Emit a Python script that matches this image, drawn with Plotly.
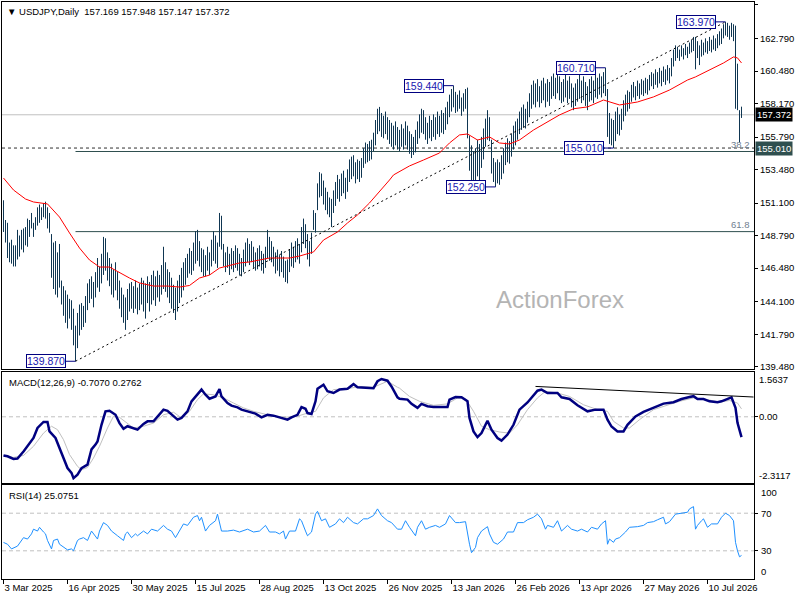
import plotly.graph_objects as go

# daily bars, one high / low per day
bar_high = [
    151.3, 149.9, 149.7, 148.3, 148.5, 148.1, 148.1, 149.2, 148.8, 149.2,
    149.3, 149.4, 150.0, 149.9, 150.4, 149.7, 150.1, 150.8, 151.0, 150.8,
    151.1, 151.2, 150.8, 150.4, 148.9, 148.3, 148.4, 147.6, 148.2, 145.6,
    145.2, 144.9, 144.6, 144.3, 144.2, 143.6, 142.4, 143.3, 143.9, 144.0,
    143.8, 144.5, 145.4, 145.7, 145.9, 145.5, 146.2, 147.2, 146.6, 147.5,
    148.7, 148.6, 147.6, 147.2, 146.8, 146.4, 146.9, 146.2, 145.6, 145.1,
    144.6, 144.4, 145.0, 145.4, 145.5, 145.2, 145.6, 145.1, 145.4, 145.8,
    145.6, 145.4, 145.9, 145.5, 146.0, 146.3, 145.9, 146.3, 146.0, 146.7,
    148.0, 146.9, 146.4, 146.2, 145.8, 145.3, 145.1, 145.6, 146.0, 146.5,
    146.9, 147.2, 147.5, 147.9, 147.7, 148.3, 149.1, 149.2, 148.4, 147.9,
    147.8, 147.4, 148.0, 147.6, 148.5, 149.1, 148.8, 148.3, 150.4, 150.2,
    148.2, 147.6, 148.0, 147.5, 147.9, 147.7, 148.1, 147.9, 147.5, 147.2,
    147.8, 148.3, 148.6, 148.2, 148.4, 148.0, 147.6, 147.9, 148.1, 147.7,
    147.5, 148.0, 149.2, 148.7, 148.4, 148.0, 147.6, 147.8, 147.4, 147.7,
    147.3, 147.0, 147.1, 147.8, 148.3, 148.0, 148.4, 148.6, 148.2, 149.4,
    150.0, 149.6, 148.9, 148.4, 149.0, 150.6, 150.4, 152.5, 153.3, 153.2,
    152.7, 152.2, 151.9, 151.5, 151.4, 152.0, 152.6, 153.1, 152.8, 153.2,
    153.4, 152.9, 153.5, 154.2, 154.4, 154.5, 154.0, 154.2, 154.1, 154.3,
    155.0, 155.4, 155.3, 155.5, 155.6, 156.1, 157.0, 157.8, 157.93, 157.5,
    157.3, 157.6, 157.2, 157.0, 156.8, 156.6, 156.9, 156.5, 156.3, 156.7,
    156.4, 156.9, 156.6, 156.2, 156.0, 155.8, 156.3, 156.9, 157.4, 157.8,
    157.7, 157.2, 156.8, 157.3, 157.0, 157.4, 157.2, 157.6, 157.3, 157.7,
    157.5, 157.9, 158.3, 158.8, 159.2, 159.44, 159.0, 158.8, 159.1, 158.6,
    158.9, 159.2, 159.3, 155.9, 155.2, 154.8, 155.0, 155.6, 155.3, 155.8,
    156.4, 157.1, 157.7, 157.2, 155.6, 154.3, 154.0, 154.2, 154.0, 154.5,
    155.0, 155.4, 155.7, 155.5, 156.0, 156.6, 156.9, 157.1, 157.6, 157.9,
    158.1, 157.8, 158.3, 158.9, 159.5, 159.8, 159.6, 159.9, 159.4, 159.8,
    160.0, 159.6, 159.9, 159.7, 160.1, 160.3, 160.0, 160.55, 160.1, 159.7,
    159.9, 160.2, 159.8, 160.1, 159.6, 159.3, 159.6, 159.9, 160.2, 159.8,
    160.1, 159.7, 159.4, 159.9, 160.1, 159.8, 160.2, 160.0, 160.3, 160.1,
    160.4, 160.71, 159.2, 157.5, 157.1, 157.0, 157.6, 157.9, 157.4, 157.8,
    158.4, 158.8, 159.1, 159.0, 159.5, 159.7, 159.4, 159.8, 159.6, 159.9,
    159.8, 160.0, 159.9, 160.2, 160.4, 160.3, 160.6, 160.4, 160.7, 160.5,
    160.8, 160.6, 160.9, 160.7, 161.4, 162.0, 162.3, 162.2, 162.0, 162.3,
    162.1, 162.4, 162.2, 162.5, 162.7, 162.9, 162.9, 162.6, 162.3, 162.7,
    162.5, 162.8, 162.6, 162.9, 162.7, 163.0, 162.8, 163.1, 163.3, 163.5,
    163.8, 163.97, 163.9, 163.7, 163.9, 163.8, 163.7, 161.0, 157.7, 157.948,
]
bar_low = [
    149.05, 148.3, 147.2, 146.9, 146.8, 146.6, 146.6, 147.1, 147.3, 147.8,
    147.6, 148.1, 148.0, 148.7, 149.3, 148.7, 149.2, 149.5, 149.7, 149.9,
    150.1, 150.0, 149.3, 149.0, 145.8, 145.0, 144.6, 144.4, 145.1, 143.9,
    143.1, 142.6, 142.2, 142.9, 142.1, 141.0, 139.87, 140.8, 141.7, 142.1,
    142.3, 142.6, 143.5, 144.0, 144.3, 143.7, 144.4, 145.1, 144.8, 145.4,
    146.0, 146.3, 145.6, 145.2, 144.6, 144.4, 144.9, 144.2, 143.6, 143.0,
    142.6, 142.1, 142.8, 143.4, 143.6, 143.3, 143.6, 143.2, 143.5, 143.9,
    143.4, 142.9, 144.0, 143.4, 143.9, 144.2, 143.8, 144.4, 144.1, 144.6,
    145.0, 144.8, 144.4, 144.0, 143.6, 143.3, 142.8, 143.4, 144.0, 144.4,
    144.9, 145.3, 145.8, 146.1, 146.0, 146.3, 146.8, 147.0, 146.6, 146.2,
    145.9, 145.9, 146.3, 146.0, 146.6, 147.0, 146.8, 146.5, 148.0, 147.8,
    146.6, 146.2, 146.5, 146.0, 146.4, 146.2, 146.5, 146.3, 146.0, 145.9,
    146.2, 146.6, 146.9, 146.7, 146.9, 146.5, 146.3, 146.4, 146.6, 146.3,
    146.1, 146.5, 147.2, 147.0, 146.9, 146.6, 146.1, 146.3, 145.9, 146.2,
    145.8, 145.5, 145.4, 146.2, 146.6, 146.5, 146.9, 147.1, 146.8, 147.6,
    148.2, 147.9, 147.1, 146.6, 147.5, 149.2, 149.0, 150.6, 151.5, 151.6,
    151.0, 150.6, 150.3, 150.1, 149.4, 150.4, 150.9, 151.4, 151.2, 151.6,
    151.8, 151.4, 151.9, 152.6, 152.8, 153.0, 152.5, 152.8, 152.6, 152.9,
    153.6, 153.9, 154.0, 154.1, 154.2, 154.8, 155.2, 156.0, 156.2, 155.8,
    155.7, 156.0, 155.6, 155.3, 155.1, 154.9, 155.2, 154.9, 154.8, 155.1,
    154.9, 155.2, 154.9, 154.6, 154.3, 154.52, 154.7, 155.3, 155.7, 156.1,
    156.0, 155.6, 155.3, 155.7, 155.5, 155.8, 155.6, 156.0, 155.8, 156.1,
    156.0, 156.3, 156.7, 157.2, 157.6, 157.9, 157.5, 157.6, 157.8, 157.3,
    157.6, 157.8, 155.7, 153.4, 152.7, 152.5, 152.6, 153.0, 152.4, 153.6,
    154.2, 155.1, 155.6, 155.5, 153.2, 152.6, 152.25, 152.5, 152.4, 152.8,
    153.2, 153.8, 154.0, 153.9, 154.4, 154.9, 155.2, 155.6, 156.0, 156.3,
    156.5, 156.4, 156.8, 157.2, 157.8, 158.1, 157.9, 158.3, 157.9, 158.2,
    158.4, 157.9, 158.3, 158.0, 158.5, 158.7, 158.5, 158.9, 158.4, 158.2,
    158.3, 158.6, 158.2, 158.5, 157.9, 157.7, 158.0, 158.3, 158.5, 158.2,
    158.4, 158.0, 157.7, 158.3, 158.4, 158.2, 158.6, 158.5, 158.8, 158.6,
    158.9, 158.7, 155.8, 155.3, 155.2, 155.01, 155.5, 156.0, 155.9, 156.3,
    156.9, 157.3, 157.6, 157.8, 158.3, 158.6, 158.4, 158.7, 158.5, 158.8,
    158.7, 158.9, 158.8, 159.1, 159.4, 159.2, 159.5, 159.3, 159.6, 159.4,
    159.7, 159.5, 159.8, 159.6, 160.1, 160.8, 161.2, 161.4, 161.2, 161.5,
    161.3, 161.6, 161.4, 161.7, 161.8, 161.9, 160.6, 161.4, 160.9, 161.5,
    161.6, 161.8, 161.7, 161.9, 161.8, 162.0, 161.9, 162.1, 162.3, 162.4,
    162.8, 163.0, 162.9, 162.7, 162.9, 162.6, 157.8, 157.7, 155.4, 157.147,
]

# moving average (red)
ma_idx = [0, 5, 11, 15, 22, 28, 33, 38, 43, 48, 53, 58, 63, 68, 75, 82, 88, 93, 98,
          103, 108, 118, 123, 133, 143, 148, 153, 155, 160, 167, 172, 177, 183, 188,
          193, 195, 203, 210, 218, 223, 228, 232, 237, 243, 248, 253, 258, 265, 272,
          278, 285, 292, 300, 308, 317, 325, 333, 342, 346, 353, 360, 365, 367, 369]
ma_val = [152.88, 152.03, 151.39, 151.18, 151.04, 150.11, 148.98, 147.91, 147.06,
          146.56, 146.56, 146.14, 145.78, 145.43, 145.21, 145.21, 145.14, 145.25,
          145.78, 145.99, 146.49, 146.85, 146.92, 147.20, 147.20, 147.34, 147.56,
          147.63, 148.48, 149.05, 149.69, 150.26, 151.11, 151.89, 152.74, 153.10,
          153.74, 154.16, 154.66, 155.37, 155.94, 156.01, 155.58, 155.80, 155.37,
          155.30, 155.58, 156.29, 156.86, 157.36, 157.80, 157.93, 158.42, 158.07,
          158.28, 158.64, 159.13, 159.84, 160.06, 160.55, 161.05, 161.48, 161.41,
          161.05]

macd_idx = [0, 2, 5, 7, 10, 12, 15, 17, 20, 22, 23, 26, 28, 30, 32, 34, 35, 37, 39,
            42, 44, 46, 47, 49, 51, 53, 56, 58, 60, 62, 65, 67, 70, 72, 75, 77, 80,
            82, 85, 87, 89, 92, 94, 97, 99, 101, 103, 106, 108, 109, 112, 114, 117,
            119, 122, 126, 129, 132, 135, 138, 142, 144, 147, 149, 151, 152, 154,
            156, 157, 160, 162, 165, 168, 172, 175, 177, 182, 185, 187, 189, 192,
            194, 197, 198, 202, 204, 207, 209, 212, 215, 220, 222, 223, 226, 229,
            232, 233, 235, 237, 239, 241, 242, 244, 247, 249, 252, 255, 258, 262,
            264, 267, 269, 272, 275, 277, 279, 283, 287, 292, 296, 300, 302, 304,
            307, 310, 312, 316, 320, 325, 330, 335, 339, 343, 345, 347, 350, 353,
            357, 359, 362, 364, 366, 367, 369]
macd_val = [-1.35, -1.38, -1.47, -1.46, -1.21, -1.01, -0.74, -0.39, -0.18, -0.18,
            -0.51, -0.74, -1.09, -1.50, -1.79, -1.96, -2.14, -2.02, -1.79, -1.67,
            -1.14, -0.97, -0.86, -0.28, 0.19, 0.21, 0.07, -0.22, -0.42, -0.33, -0.39,
            -0.45, -0.25, -0.16, -0.16, 0.02, 0.25, 0.21, 0.02, -0.10, -0.04, 0.19,
            0.54, 0.80, 0.95, 0.77, 0.63, 0.71, 0.97, 0.71, 0.48, 0.39, 0.33, 0.25,
            0.19, 0.11, -0.02, 0.07, 0.04, -0.01, -0.10, -0.02, 0.07, 0.34, 0.28,
            0.13, 0.10, 0.54, 0.98, 1.12, 0.89, 0.83, 0.95, 0.98, 1.14, 1.03, 1.00,
            1.00, 1.24, 1.32, 1.26, 1.06, 0.68, 0.63, 0.60, 0.45, 0.31, 0.45, 0.37,
            0.34, 0.34, 0.34, 0.60, 0.69, 0.68, 0.54, -0.04, -0.51, -0.71, -0.57,
            -0.28, -0.14, -0.45, -0.74, -0.83, -0.62, -0.28, 0.25, 0.50, 0.68, 0.91,
            0.95, 0.83, 0.83, 0.83, 0.68, 0.62, 0.40, 0.19, 0.25, 0.25, -0.10, -0.34,
            -0.51, -0.51, -0.28, 0.01, 0.17, 0.31, 0.46, 0.51, 0.62, 0.69, 0.72, 0.62,
            0.62, 0.54, 0.51, 0.54, 0.62, 0.68, 0.31, -0.21, -0.7070]

signal_idx = [0, 5, 10, 15, 20, 24, 27, 30, 33, 37, 39, 42, 45, 48, 52, 55, 58, 62,
              65, 70, 75, 80, 85, 89, 93, 97, 100, 105, 110, 115, 120, 125, 132, 140,
              147, 152, 156, 160, 165, 172, 178, 185, 192, 197, 198, 203, 208, 215,
              222, 227, 231, 235, 239, 243, 248, 253, 257, 262, 267, 271, 277, 283,
              290, 297, 302, 305, 310, 313, 318, 325, 332, 338, 345, 352, 358, 363,
              367, 369]
signal_val = [-1.35, -1.42, -1.35, -1.03, -0.57, -0.33, -0.45, -0.80, -1.32, -1.73,
              -1.85, -1.77, -1.44, -1.03, -0.39, 0.02, -0.02, -0.22, -0.39, -0.33,
              -0.22, 0.07, 0.16, -0.04, 0.19, 0.60, 0.80, 0.77, 0.66, 0.48, 0.31, 0.19,
              0.07, -0.02, 0.02, 0.13, 0.19, 0.66, 0.95, 0.98, 1.06, 1.03, 1.24, 1.03,
              1.00, 0.71, 0.54, 0.40, 0.45, 0.66, 0.63, 0.19, -0.33, -0.45, -0.53,
              -0.57, -0.28, 0.25, 0.66, 0.89, 0.83, 0.71, 0.42, 0.25, 0.19, -0.16,
              -0.39, -0.39, -0.10, 0.25, 0.40, 0.54, 0.66, 0.60, 0.51, 0.57, 0.48,
              0.2762]

rsi_idx = [0, 2, 4, 7, 10, 12, 14, 15, 17, 18, 20, 21, 22, 24, 25, 27, 28, 30, 31,
           32, 34, 35, 37, 38, 40, 42, 44, 45, 47, 48, 50, 52, 54, 57, 60, 61, 62, 64,
           66, 67, 70, 72, 74, 77, 80, 82, 84, 86, 88, 90, 92, 95, 97, 98, 99, 101,
           103, 106, 107, 109, 112, 115, 118, 122, 125, 128, 131, 133, 136, 138, 140,
           141, 143, 146, 148, 149, 151, 152, 154, 156, 157, 159, 161, 163, 166, 168,
           170, 172, 175, 177, 180, 182, 185, 187, 189, 192, 194, 197, 199, 201, 203,
           206, 207, 209, 211, 213, 216, 218, 221, 223, 226, 228, 231, 232, 233, 234,
           236, 237, 239, 242, 243, 245, 247, 250, 252, 255, 257, 260, 262, 265, 267,
           269, 271, 272, 275, 277, 279, 282, 284, 287, 289, 292, 294, 297, 299, 301,
           302, 303, 305, 306, 308, 311, 313, 317, 320, 322, 325, 327, 330, 331, 333,
           336, 339, 342, 343, 345, 346, 347, 349, 350, 352, 354, 357, 359, 361, 363,
           365, 366, 367, 368, 369]
rsi_val = [38.9, 37, 32, 35, 44, 42.5, 48, 53, 51, 55, 50, 48, 41, 32, 41, 42.5, 37,
           33.6, 32, 31, 32, 30, 41, 42.5, 44, 41, 51, 48, 42.5, 51, 60, 57, 51, 46,
           41, 48, 50, 44, 48, 46, 51, 48, 53, 51, 57, 53, 51, 44, 51, 58.6, 57, 65.7,
           67.5, 62, 65.7, 51, 57, 62, 69, 51, 51, 52, 50, 53, 50, 51, 57, 50, 50, 48,
           51, 42.5, 51, 51, 64, 62, 51, 46, 50, 69, 72, 62, 64, 55, 58.6, 64, 60,
           65.7, 60, 58.6, 64, 64, 67.5, 74.6, 67.5, 62, 60, 53, 53, 62, 55, 46, 55,
           62, 53, 55, 57, 55, 58.6, 67.5, 60, 60, 61, 48, 37, 28, 33.6, 44, 51, 55.7,
           48, 39, 37, 42.5, 50, 50, 60, 60, 63, 65.7, 69, 64, 53, 57, 55, 62, 51, 57,
           53, 51, 53, 50, 55, 53, 58.6, 62, 37, 42.5, 39, 42.5, 44, 50, 55, 55.7, 57,
           60, 61, 63, 65.7, 58.6, 61, 69, 70, 71, 74.6, 77, 53, 57, 62, 64, 55, 58.6,
           58.6, 65.7, 70, 67.5, 62, 39, 30, 23.6, 25.0751]

# chart objects
trend_idx = [36, 361]
trend_val = [139.87, 163.97]
macd_trend_idx = [266, 375]
macd_trend_val = [1.06, 0.69]
fib_levels = [154.764, 149.076]
fib_names = ['38.2', '61.8']
mark_idx = [36, 225, 246, 301, 305, 361]
mark_val = [139.87, 159.44, 152.25, 160.71, 155.01, 163.97]
last_bar = [157.169, 157.948, 157.147, 157.372]
support = 155.01

date_ticks = [0, 32, 64, 96, 128, 160, 192, 224, 256, 288, 320, 352]
date_labels = ['3 Mar 2025', '16 Apr 2025', '30 May 2025', '15 Jul 2025', '28 Aug 2025',
               '13 Oct 2025', '26 Nov 2025', '13 Jan 2026', '26 Feb 2026', '13 Apr 2026',
               '27 May 2026', '10 Jul 2026']
price_ticks = [165.17, 162.79, 160.48, 158.17, 155.79, 153.48, 151.10, 148.79,
               146.48, 144.10, 141.79, 139.48]

FONT = 'Liberation Sans'
BAR_COLOR = '#0f3652'
# quarter-bar offset keeps each 1px bar on a whole pixel column
XR = [-0.75, 375.25]
last_close = last_bar[3]

fig = go.Figure()

xs, ys = [], []
for i, (h, l) in enumerate(zip(bar_high, bar_low)):
    xs += [i, i, None]
    ys += [l, h, None]
fig.add_trace(go.Scatter(x=xs, y=ys, mode='lines', line=dict(color=BAR_COLOR, width=1),
                         xaxis='x', yaxis='y', hoverinfo='skip'))
fig.add_trace(go.Scatter(x=ma_idx, y=ma_val, mode='lines', line=dict(color='#ff0000', width=1),
                         xaxis='x', yaxis='y'))
fig.add_trace(go.Scatter(x=trend_idx, y=trend_val, mode='lines',
                         line=dict(color='black', width=1, dash='2px,3px'), xaxis='x', yaxis='y'))

fig.add_trace(go.Scatter(x=signal_idx, y=signal_val, mode='lines',
                         line=dict(color='#c0c0c0', width=1), xaxis='x2', yaxis='y2'))
fig.add_trace(go.Scatter(x=macd_idx, y=macd_val, mode='lines',
                         line=dict(color='#000080', width=2.5), xaxis='x2', yaxis='y2'))
fig.add_trace(go.Scatter(x=macd_trend_idx, y=macd_trend_val, mode='lines',
                         line=dict(color='black', width=1), xaxis='x2', yaxis='y2'))

fig.add_trace(go.Scatter(x=rsi_idx, y=rsi_val, mode='lines',
                         line=dict(color='#1e90ff', width=1), xaxis='x3', yaxis='y3'))

shapes = [
    dict(type='line', xref='x', yref='y', x0=XR[0], x1=XR[1], y0=last_close, y1=last_close,
         line=dict(color='#c0c0c0', width=1), layer='below'),
    dict(type='line', xref='x', yref='y', x0=XR[0], x1=XR[1], y0=support, y1=support,
         line=dict(color='#303030', width=1, dash='3px,3px'), layer='below'),
    dict(type='line', xref='x2', yref='y2', x0=XR[0], x1=XR[1], y0=0, y1=0,
         line=dict(color='#c0c0c0', width=1, dash='4px,3px'), layer='below'),
]
for lvl in fib_levels:
    shapes.append(dict(type='line', xref='x', yref='y', x0=trend_idx[0], x1=XR[1], y0=lvl, y1=lvl,
                       line=dict(color='#2f4f4f', width=1), layer='below'))
for lvl in [70, 30]:
    shapes.append(dict(type='line', xref='x3', yref='y3', x0=XR[0], x1=XR[1], y0=lvl, y1=lvl,
                       line=dict(color='#c0c0c0', width=1, dash='4px,3px'), layer='below'))

annotations = []
for idx, val in zip(mark_idx, mark_val):
    shapes.append(dict(type='line', xref='x', yref='y', x0=idx - 5, x1=idx, y0=val, y1=val,
                       line=dict(color='#000080', width=1)))
    annotations.append(dict(x=idx - 5, y=val, xref='x', yref='y', xanchor='right', yanchor='middle',
                            text=f'{val:.3f}', showarrow=False, bgcolor='white',
                            bordercolor='#000080', borderwidth=1, borderpad=0,
                            font=dict(family=FONT, size=10.5, color='#1818b0')))

for lvl, name in zip(fib_levels, fib_names):
    annotations.append(dict(x=1, y=lvl, xref='paper', yref='y', xanchor='right', yanchor='bottom',
                            xshift=-2, text=name, showarrow=False,
                            font=dict(family=FONT, size=9.5, color='#708090')))

# right hand price boxes
annotations.append(dict(x=1, y=last_close, xref='paper', yref='y', xanchor='left', yanchor='middle',
                        xshift=1, text=f'{last_close:.3f}', showarrow=False, bgcolor='black',
                        borderpad=1, font=dict(family=FONT, size=9.5, color='white')))
annotations.append(dict(x=1, y=support, xref='paper', yref='y', xanchor='left', yanchor='middle',
                        xshift=1, text=f'{support:.3f}', showarrow=False, bgcolor='#2f4f4f',
                        borderpad=1, font=dict(family=FONT, size=9.5, color='white')))

# panel headers
header = 'USDJPY,Daily  ' + ' '.join(f'{v:.3f}' for v in last_bar)
annotations.append(dict(x=0, y=1, xref='paper', yref='y domain', xanchor='left', yanchor='top',
                        xshift=3, yshift=-2, showarrow=False, text='\u25bc ' + header,
                        font=dict(family=FONT, size=9.5, color='black')))
annotations.append(dict(x=0, y=1, xref='paper', yref='y2 domain', xanchor='left', yanchor='top',
                        xshift=5, yshift=-3, showarrow=False,
                        text=f'MACD(12,26,9) {macd_val[-1]:.4f} {signal_val[-1]:.4f}',
                        font=dict(family=FONT, size=9.5, color='black')))
annotations.append(dict(x=0, y=1, xref='paper', yref='y3 domain', xanchor='left', yanchor='top',
                        xshift=5, yshift=-3, showarrow=False,
                        text=f'RSI(14) {rsi_val[-1]:.4f}',
                        font=dict(family=FONT, size=9.5, color='black')))

# indicator scale labels
for val, txt, anc in [(1.5637, '1.5637', 'top'), (0, '0.00', 'middle'), (-2.3117, '-2.3117', 'bottom')]:
    annotations.append(dict(x=1, y=val, xref='paper', yref='y2', xanchor='left', yanchor=anc,
                            xshift=3, text=txt, showarrow=False,
                            font=dict(family=FONT, size=9.5, color='black')))
for val, anc in [(100, 'top'), (70, 'middle'), (30, 'middle'), (0, 'bottom')]:
    annotations.append(dict(x=1, y=val, xref='paper', yref='y3', xanchor='left', yanchor=anc,
                            xshift=5, text=str(val), showarrow=False,
                            font=dict(family=FONT, size=9.5, color='black')))

# watermark
annotations.append(dict(x=0.742, y=144.29, xref='paper', yref='y', xanchor='center',
                        yanchor='middle', text='ActionForex', showarrow=False,
                        font=dict(family=FONT, size=24, color='#b4b4b4')))

box = dict(showline=True, mirror=True, linecolor='black', linewidth=1,
           showgrid=False, zeroline=False)

fig.update_layout(
    width=800, height=600,
    margin=dict(l=2, r=46, t=2, b=21),
    paper_bgcolor='white', plot_bgcolor='white',
    showlegend=False,
    font=dict(family=FONT, size=9.5, color='black'),
    shapes=shapes, annotations=annotations,
    xaxis=dict(anchor='y', range=XR, showticklabels=False, ticks='', **box),
    xaxis2=dict(anchor='y2', range=XR, matches='x', showticklabels=False, ticks='', **box),
    xaxis3=dict(anchor='y3', range=XR, matches='x', tickvals=date_ticks, ticktext=date_labels,
                ticks='outside', ticklen=4, tickcolor='black', ticklabelposition='outside right',
                tickfont=dict(family=FONT, size=9.5), **box),
    yaxis=dict(domain=[0.36395, 1], anchor='x', side='right', range=[139.32, 165.38],
               tickvals=price_ticks, ticktext=[f'{v:.3f}' for v in price_ticks],
               ticks='outside', ticklen=3, tickcolor='black',
               tickfont=dict(family=FONT, size=9.5), **box),
    yaxis2=dict(domain=[0.16638, 0.35875], anchor='x2', side='right', range=[-2.3117, 1.5637],
                tickvals=[0], ticks='outside', ticklen=3, tickcolor='black',
                showticklabels=False, **box),
    yaxis3=dict(domain=[0, 0.16291], anchor='x3', side='right', range=[0, 100],
                tickvals=[70, 30], ticks='outside', ticklen=3, tickcolor='black',
                showticklabels=False, **box),
)

# the page's default body margin would push the 800x600 figure off the window
fig.write_html('out.html', config={'displayModeBar': False},
               post_script="document.body.style.margin='0';")
